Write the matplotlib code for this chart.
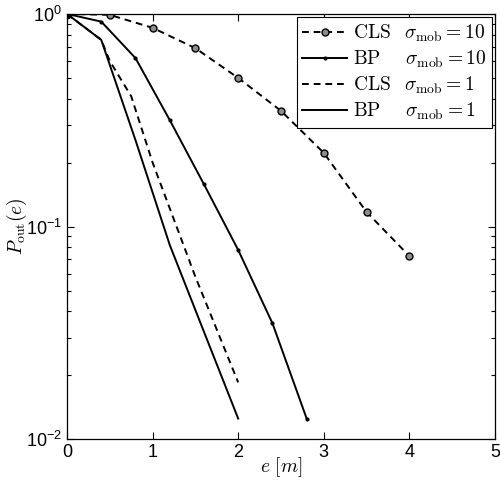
import matplotlib
matplotlib.use('Agg')
import matplotlib.pyplot as plt
from matplotlib.ticker import LogLocator, NullFormatter

x_cls10 = [0, 0.5, 1.0, 1.5, 2.0, 2.5, 3.0, 3.5, 4.0]
y_cls10 = [1.0, 0.99, 0.86, 0.69, 0.50, 0.35, 0.222, 0.117, 0.0726]

x_bp10 = [0, 0.4, 0.8, 1.2, 1.6, 2.0, 2.4, 2.8]
y_bp10 = [1.0, 0.92, 0.62, 0.317, 0.158, 0.0776, 0.0351, 0.0125]

x_cls1 = [0, 0.4, 0.5, 0.75, 1.0, 1.5, 2.0]
y_cls1 = [1.0, 0.755, 0.60, 0.41, 0.20, 0.058, 0.0185]

x_bp1 = [0, 0.4, 0.8, 1.2, 1.6, 2.0]
y_bp1 = [1.0, 0.755, 0.255, 0.082, 0.032, 0.0125]

labels = [r'$\mathrm{CLS}\hspace{0.85}\sigma_{\mathrm{mob}}=10$',
          r'$\mathrm{BP}\hspace{1.5}\sigma_{\mathrm{mob}}=10$',
          r'$\mathrm{CLS}\hspace{0.85}\sigma_{\mathrm{mob}}=1$',
          r'$\mathrm{BP}\hspace{1.5}\sigma_{\mathrm{mob}}=1$']

plt.rcParams['font.family'] = ['Liberation Sans', 'DejaVu Sans']
plt.rcParams['mathtext.fontset'] = 'cm'

fig = plt.figure(figsize=(5, 4.8), dpi=100)
ax = fig.add_axes([0.134, 0.085, 0.856, 0.886])

dash = (0, (3.5, 2.5))
ax.plot(x_cls10, y_cls10, color='k', lw=1.4, ls=dash, marker='o', ms=5,
        mfc='0.55', mec='k', mew=1.0, label=labels[0])
ax.plot(x_bp10, y_bp10, color='k', lw=1.4, ls='-', marker='.', ms=4,
        label=labels[1])
ax.plot(x_cls1, y_cls1, color='k', lw=1.4, ls=dash, label=labels[2])
ax.plot(x_bp1, y_bp1, color='k', lw=1.4, ls='-', label=labels[3])
ax.plot([0], [1.0], 'ko', ms=6)

ax.set_yscale('log')
ax.set_xlim(0, 5)
ax.set_ylim(0.01, 1)
ax.set_xticks([0, 1, 2, 3, 4, 5])
ax.yaxis.set_major_locator(LogLocator(base=10, numticks=5))
ax.yaxis.set_minor_locator(LogLocator(base=10, subs=range(2, 10), numticks=10))
ax.yaxis.set_minor_formatter(NullFormatter())
ax.tick_params(which='both', direction='in', top=True, right=True,
               labelsize=13, width=0.8)
ax.tick_params(which='major', length=5)
ax.tick_params(which='minor', length=3)
for s in ax.spines.values():
    s.set_linewidth(0.9)

ax.set_xlabel(r'$e\ [m]$', fontsize=14, labelpad=-4)
ax.set_ylabel(r'$P_{\mathrm{out}}(e)$', fontsize=14, labelpad=-2)

leg = ax.legend(loc='upper right', fontsize=14, handlelength=2.3,
                handletextpad=0.3, labelspacing=0.25, borderpad=0.3,
                borderaxespad=0.15, fancybox=False, framealpha=1)
leg.get_frame().set_edgecolor('k')
leg.get_frame().set_linewidth(0.8)

fig.savefig('out.png', dpi=100)
